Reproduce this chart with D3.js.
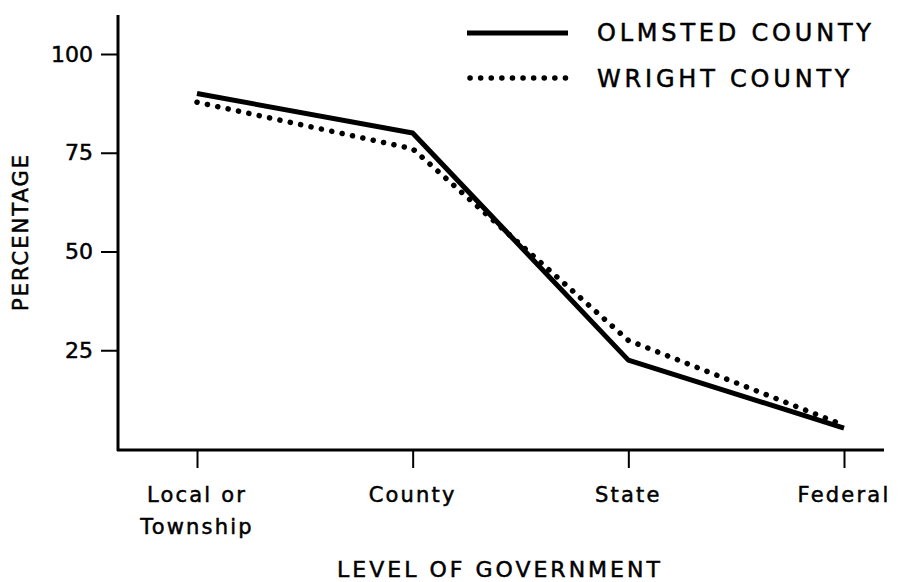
<!DOCTYPE html>
<html>
<head>
<meta charset="utf-8">
<script src="https://cdn.jsdelivr.net/npm/d3@7"></script>
<style>
  body { margin: 0; background: #fff; }
  text { font-family: "DejaVu Sans", sans-serif; fill: #000; stroke: #000; stroke-width: 0.5px; }
</style>
</head>
<body>
<div id="chart"></div>
<script>
// data
var levels = ["Local or Township", "County", "State", "Federal"];
var olmsted = [90, 80, 22.5, 5.3];
var wright = [87.8, 76, 27.5, 6];
var yTicks = [25, 50, 75, 100];

var width = 901, height = 582;

var x = d3.scalePoint().domain(levels).range([197, 844]);
var y = d3.scaleLinear().domain([0, 100]).range([449, 54]);

var svg = d3.select("#chart").append("svg")
  .attr("width", width)
  .attr("height", height);

// axis lines
svg.append("line")
  .attr("x1", 118).attr("y1", 15).attr("x2", 118).attr("y2", 451)
  .attr("stroke", "#000").attr("stroke-width", 3);
svg.append("line")
  .attr("x1", 117).attr("y1", 450).attr("x2", 884).attr("y2", 450)
  .attr("stroke", "#000").attr("stroke-width", 3);

// y axis ticks
var yAxis = svg.append("g")
  .attr("transform", "translate(118,0)")
  .call(d3.axisLeft(y).tickValues(yTicks).tickSize(17).tickPadding(8));
yAxis.select(".domain").remove();
yAxis.selectAll(".tick line").attr("stroke", "#000").attr("stroke-width", 2);
yAxis.selectAll(".tick text")
  .style("font-size", "22px")
  .style("font-family", "DejaVu Sans, sans-serif")
  .attr("fill", "#000");

// x axis ticks
var xAxis = svg.append("g")
  .attr("transform", "translate(0,450)")
  .call(d3.axisBottom(x).tickSize(18).tickFormat(""));
xAxis.select(".domain").remove();
xAxis.selectAll(".tick line").attr("stroke", "#000").attr("stroke-width", 2);

var xLabels = {
  "Local or Township": ["Local or", "Township"],
  "County": ["County"],
  "State": ["State"],
  "Federal": ["Federal"]
};
svg.selectAll(".xlab")
  .data(levels)
  .enter().append("text")
  .attr("class", "xlab")
  .attr("text-anchor", "middle")
  .style("font-size", "21px")
  .style("letter-spacing", "2.2px")
  .each(function(d) {
    var t = d3.select(this);
    xLabels[d].forEach(function(line, i) {
      t.append("tspan")
        .attr("x", x(d))
        .attr("y", 502 + i * 32)
        .text(line);
    });
  });

// axis titles
svg.append("text")
  .attr("transform", "translate(28,232) rotate(-90)")
  .attr("text-anchor", "middle")
  .style("font-size", "21px")
  .style("letter-spacing", "2px")
  .text("PERCENTAGE");

svg.append("text")
  .attr("x", 500)
  .attr("y", 577)
  .attr("text-anchor", "middle")
  .style("font-size", "22px")
  .style("letter-spacing", "3px")
  .text("LEVEL OF GOVERNMENT");

// lines
var line = d3.line()
  .x(function(d, i) { return x(levels[i]); })
  .y(function(d) { return y(d); });

svg.append("path")
  .datum(olmsted)
  .attr("d", line)
  .attr("fill", "none")
  .attr("stroke", "#000")
  .attr("stroke-width", 5)
  .attr("stroke-linejoin", "round");

svg.append("path")
  .datum(wright)
  .attr("d", line)
  .attr("fill", "none")
  .attr("stroke", "#000")
  .attr("stroke-width", 5.5)
  .attr("stroke-linecap", "round")
  .attr("stroke-dasharray", "0.1 10.5");

// legend
var legend = svg.append("g");
legend.append("line")
  .attr("x1", 467).attr("y1", 33).attr("x2", 568).attr("y2", 33)
  .attr("stroke", "#000").attr("stroke-width", 5);
legend.append("line")
  .attr("x1", 470).attr("y1", 78).attr("x2", 568).attr("y2", 78)
  .attr("stroke", "#000").attr("stroke-width", 5.5)
  .attr("stroke-linecap", "round")
  .attr("stroke-dasharray", "0.1 10.5");
legend.append("text")
  .attr("x", 597).attr("y", 41)
  .style("font-size", "24px")
  .style("letter-spacing", "3.8px")
  .text("OLMSTED COUNTY");
legend.append("text")
  .attr("x", 597).attr("y", 87)
  .style("font-size", "24px")
  .style("letter-spacing", "3.8px")
  .text("WRIGHT COUNTY");
</script>
</body>
</html>
